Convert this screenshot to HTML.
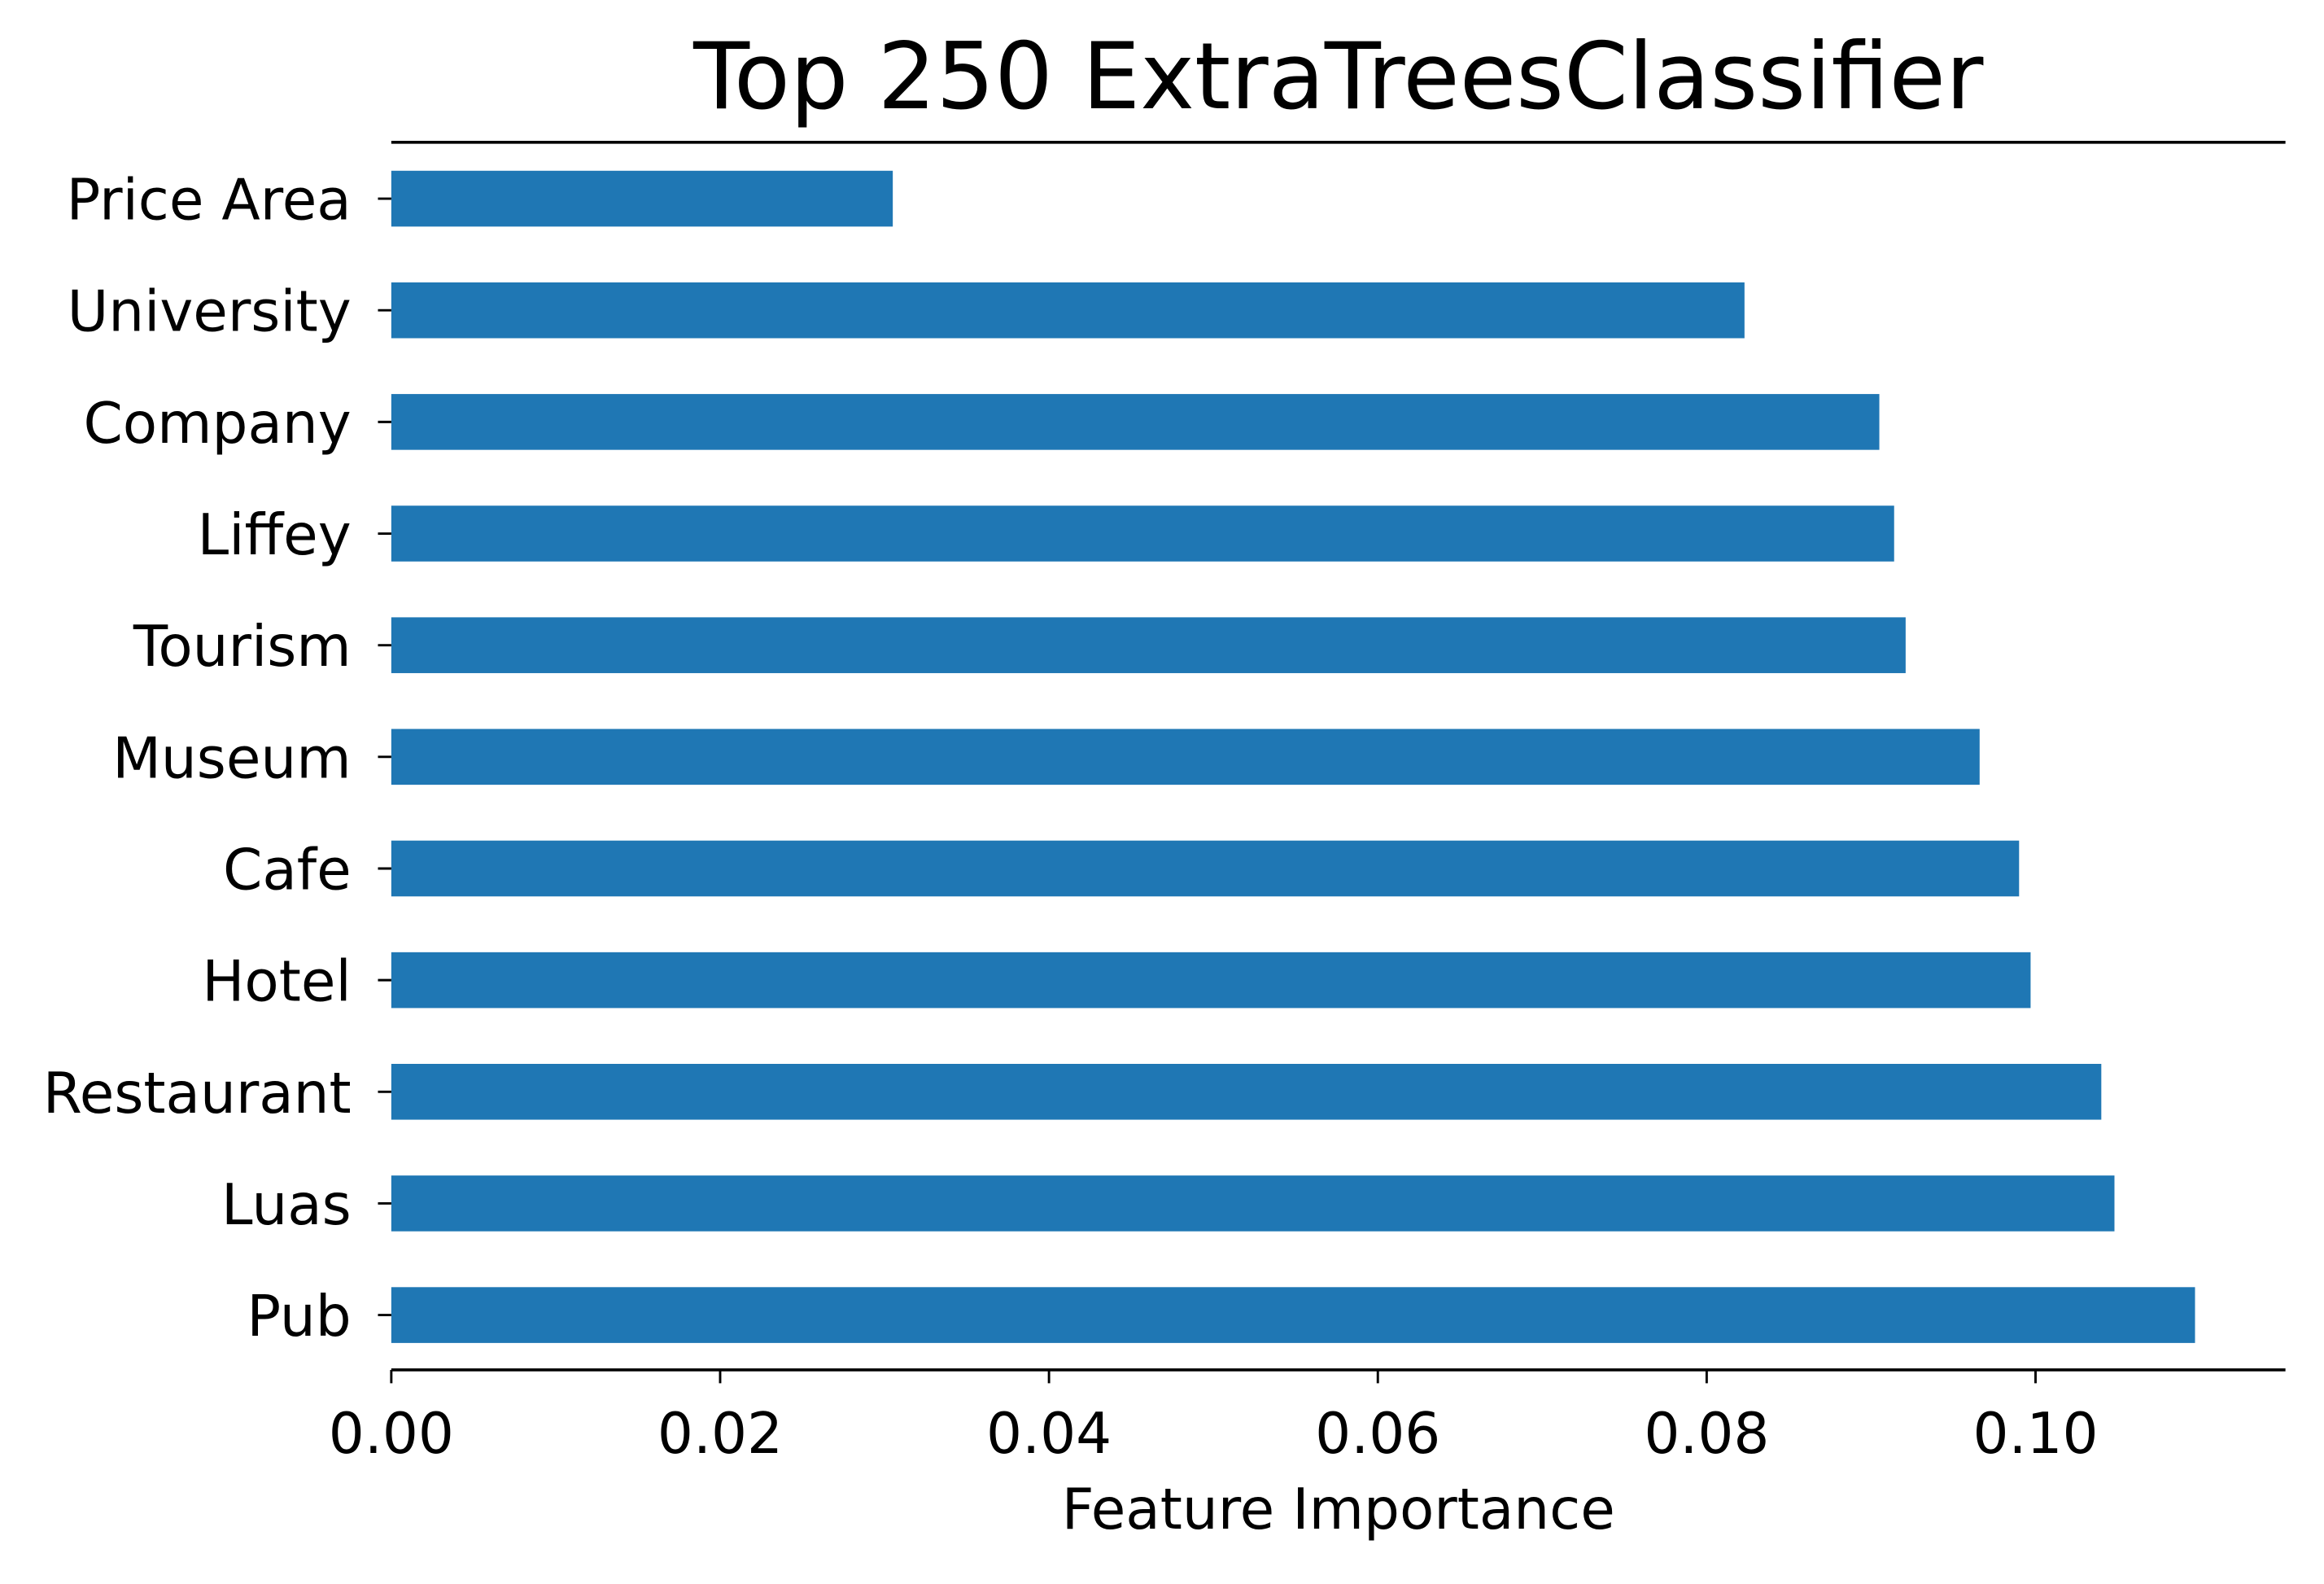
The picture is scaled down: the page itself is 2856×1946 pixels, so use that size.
<!DOCTYPE html>
<html><head><meta charset="utf-8"><style>
html,body{margin:0;padding:0;background:#fff}
svg{display:block}
text{font-family:"DejaVu Sans","Liberation Sans",sans-serif;fill:#000}
</style></head><body>
<svg id="chart" width="2856" height="1946" viewBox="0 0 1568 1068.4" xmlns="http://www.w3.org/2000/svg">
<text x="903" y="73" font-size="62" text-anchor="middle">Top 250 ExtraTreesClassifier</text>
<g id="plot"></g>
<text x="903" y="1031" font-size="38" text-anchor="middle">Feature Importance</text>
</svg>
<script>
const categories = ["Price Area","University","Company","Liffey","Tourism","Museum","Cafe","Hotel","Restaurant","Luas","Pub"];
const values = [0.0305,0.0823,0.0905,0.0914,0.0921,0.0966,0.0990,0.0997,0.1040,0.1048,0.1097];
const xTicks = [0,0.02,0.04,0.06,0.08,0.10];
const xTickLabels = ["0.00","0.02","0.04","0.06","0.08","0.10"];
const xMax = 0.1152;

(function(){
const NS="http://www.w3.org/2000/svg";
const L=264,R=1542,T=96,B=924;
const firstC=134, lastC=887;
function xs(v){return L+(R-L)*v/xMax;}
function ys(i){return firstC+(lastC-firstC)*i/(categories.length-1);}
const g=document.getElementById('plot');
function mk(tag,attrs){const e=document.createElementNS(NS,tag);for(const k in attrs)e.setAttribute(k,attrs[k]);g.appendChild(e);return e;}
const bh=(lastC-firstC)/(categories.length-1)*0.5;
categories.forEach((c,i)=>{
  const y=ys(i);
  const r=mk('rect',{x:xs(0),y:y-bh/2,width:xs(values[i])-xs(0),height:bh,fill:'#1f77b4'});
  
  
  const t=mk('line',{x1:L-9,x2:L,y1:y,y2:y,stroke:'#000','stroke-width':1.6});
  
  
  const lb=mk('text',{x:L-27,y:y+14,'font-size':38,'text-anchor':'end'});
  lb.textContent=c;
  
  
});
xTicks.forEach((v,i)=>{
  const x=xs(v);
  const t=mk('line',{x1:x,x2:x,y1:B,y2:B+9,stroke:'#000','stroke-width':1.6});
  
  
  const lb=mk('text',{x:x,y:B+56,'font-size':38,'text-anchor':'middle'});
  lb.textContent=xTickLabels[i];
  
  
});
const topSpine=mk('line',{x1:L,x2:R,y1:T,y2:T,stroke:'#000','stroke-width':2});


const botSpine=mk('line',{x1:L,x2:R,y1:B,y2:B,stroke:'#000','stroke-width':2});


})();
</script>
</body></html>
